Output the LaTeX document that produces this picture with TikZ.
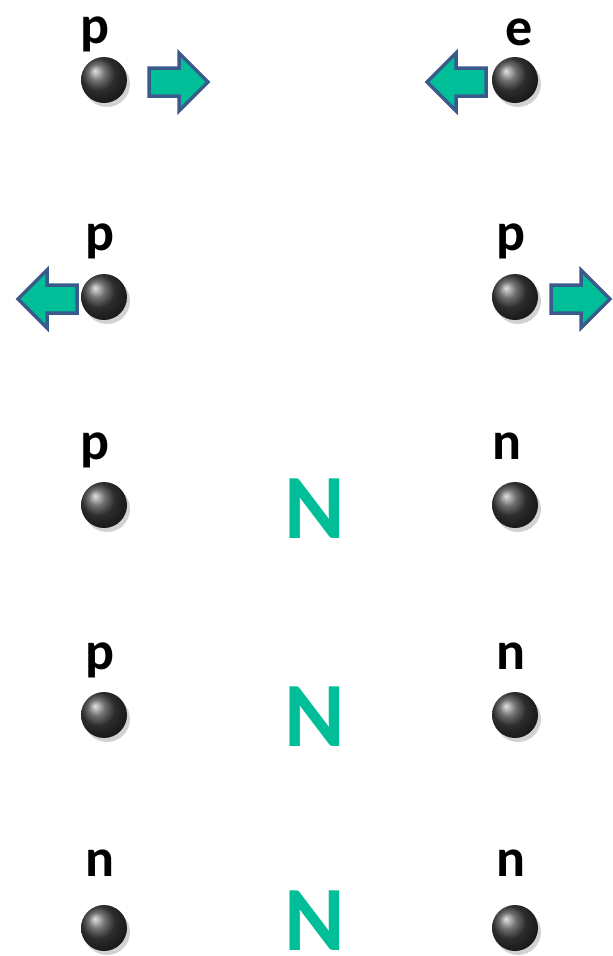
\documentclass[tikz,border=0pt]{standalone}
\usepackage{fontspec}
\setmainfont{Carlito}
\usetikzlibrary{shadows}
\definecolor{teal1}{HTML}{00BE98}
\definecolor{edgeblue}{HTML}{3B5A8C}
\begin{document}
\begin{tikzpicture}[x=1pt,y=-1pt,
  ball/.style={circle,minimum size=46pt,inner sep=0pt,shading=ball,ball color=black!75,
     general shadow={shadow xshift=3pt,shadow yshift=-4pt,fill=black!35,opacity=0.5}},
  lbl/.style={font=\fontsize{54}{54}\selectfont\bfseries,inner sep=0pt,anchor=base},
  bigN/.style={font=\fontsize{92}{92}\selectfont\bfseries,text=teal1,inner sep=0pt},
  arr/.pic={\draw[edgeblue,line width=3.5pt,fill=teal1,line join=miter]
     (0,-14)--(30,-14)--(30,-29)--(59,0)--(30,29)--(30,14)--(0,14)--cycle;}]
\useasboundingbox (0,0) rectangle (613,956);
% row 1
\node[ball] (b11) at (104,80) {};
\node[ball] (b12) at (515,80) {};
\node[lbl] (l11) at (95,43) {p};
\node[lbl] (l12) at (519,45) {e};
\pic at (149,82) {arr};
\pic[rotate=180] at (486,82) {arr};
% row 2
\node[ball] (b21) at (104,297) {};
\node[ball] (b22) at (515,297) {};
\node[lbl] (l21) at (100,250) {p};
\node[lbl] (l22) at (511,250) {p};
\pic[rotate=180] at (77,299) {arr};
\pic at (551,299) {arr};
% row 3
\node[ball] (b31) at (104,505) {};
\node[ball] (b32) at (515,505) {};
\node[lbl] (l31) at (95,459) {p};
\node[lbl] (l32) at (507,459) {n};
\node[bigN] (n3) at (315,509) {N};
% row 4
\node[ball] (b41) at (104,715) {};
\node[ball] (b42) at (515,715) {};
\node[lbl] (l41) at (100,669) {p};
\node[lbl] (l42) at (511,669) {n};
\node[bigN] (n4) at (315,717) {N};
% row 5
\node[ball] (b51) at (104,928) {};
\node[ball] (b52) at (515,928) {};
\node[lbl] (l51) at (100,876) {n};
\node[lbl] (l52) at (511,876) {n};
\node[bigN] (n5) at (315,921) {N};
\end{tikzpicture}
\end{document}
